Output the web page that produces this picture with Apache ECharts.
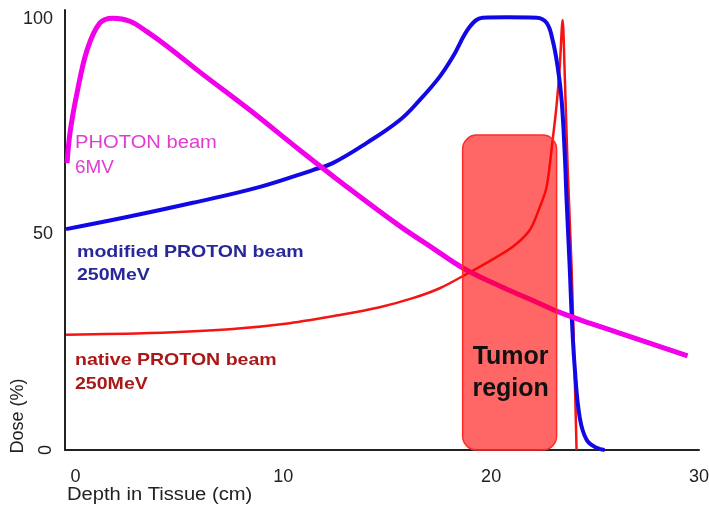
<!DOCTYPE html>
<html>
<head>
<meta charset="utf-8">
<script src="https://cdn.jsdelivr.net/npm/echarts@6/dist/echarts.min.js"></script>
<style>
html,body{margin:0;padding:0;background:#fff;}
#chart{width:709px;height:508px;}
</style>
</head>
<body>
<div id="chart"></div>
<script>
// ---- data (depth in cm, dose in %) ----
const photonDepth = [-0.40,-0.26,0.08,0.56,1.18,1.81,2.62,3.44,4.55,5.99,8.39,10.80,13.20,15.61,17.19,18.64,20.41,21.85,23.15,24.74,26.18,27.62,29.45];
const photonDose  = [66.5,73.5,82.8,92.7,99.0,100.1,99.4,97.0,93.1,87.6,78.8,69.5,60.5,51.9,46.8,42.2,38.0,35.0,32.2,29.4,27.1,24.8,21.8];

const modProtonDepth = [-0.45,2.48,5.65,8.88,11.42,12.38,14.02,15.61,16.56,17.52,18.15,18.97,19.59,20.75,22.19,22.67,22.96,23.20,23.39,23.54,23.63,23.78,23.88,24.02,24.26,24.60,25.08,25.46];
const modProtonDose  = [51.2,54.0,57.3,61.0,64.9,66.5,71.2,76.5,81.1,86.5,91.1,98.1,100.2,100.3,100.2,99.0,95.0,88.8,81.1,68.8,58.0,42.4,30.8,19.2,7.6,2.3,0.5,0];

const natProtonDepth = [-0.45,3.59,7.43,10.31,12.72,14.64,16.23,17.53,18.82,19.93,21.04,21.86,22.34,22.67,22.96,23.15,23.30,23.44,23.53,23.68,23.87,24.01,24.11];
const natProtonDose  = [26.7,27.1,28.0,29.4,31.3,33.1,35.2,37.5,40.8,43.8,47.1,51.0,56.3,61.0,71.9,80.0,88.8,99.7,88.8,65.6,42.4,19.2,0];

// tumor region: [depth start, depth end, dose top]
const tumorRegion = [18.63, 23.15, 73.0];

const depthTicks = [0, 10, 20, 30];
const doseTicks = [50, 100];
const doseZeroTick = [0];

const pair = (xs, ys) => xs.map((x, i) => [x, ys[i]]);

const chart = echarts.init(document.getElementById('chart'), null, {renderer: 'canvas'});
const FONT = '"Liberation Sans", Arial, sans-serif';

const option = {
  animation: false,
  backgroundColor: '#ffffff',
  grid: {left: 65, right: 10, top: 10, bottom: 58, containLabel: false, outerBoundsMode: 'none'},
  xAxis: {
    type: 'value', min: -0.5, max: 30,
    axisLine: {show: true, onZero: false, lineStyle: {color: '#222', width: 2}},
    axisTick: {show: false},
    splitLine: {show: false},
    axisLabel: {customValues: depthTicks, margin: 18, fontSize: 18, fontFamily: FONT, color: '#222'}
  },
  yAxis: [{
    type: 'value', min: 0, max: 102,
    axisLine: {show: true, onZero: false, lineStyle: {color: '#222', width: 2}},
    axisTick: {show: false},
    splitLine: {show: false},
    axisLabel: {customValues: doseTicks, margin: 12, fontSize: 18, fontFamily: FONT, color: '#222'}
  }, {
    type: 'value', min: 0, max: 102, position: 'left',
    axisLine: {show: false, onZero: false}, axisTick: {show: false}, splitLine: {show: false},
    axisLabel: {customValues: doseZeroTick, rotate: 90, margin: 10, fontSize: 18, fontFamily: FONT, color: '#222'}
  }],
  series: [
    {
      type: 'line', name: 'native PROTON beam', data: pair(natProtonDepth, natProtonDose),
      showSymbol: false, smooth: 0.3,
      lineStyle: {color: '#f41414', width: 2.5}, z: 3
    },
    {
      type: 'line', name: 'modified PROTON beam', data: pair(modProtonDepth, modProtonDose),
      showSymbol: false, smooth: 0.4,
      lineStyle: {color: '#1208e6', width: 4}, z: 4
    },
    {
      type: 'line', name: 'PHOTON beam', data: pair(photonDepth, photonDose),
      showSymbol: false, smooth: 0.35,
      lineStyle: {color: '#f200ea', width: 5}, z: 5
    },
    {
      type: 'custom', name: 'Tumor region', z: 10, clip: false,
      data: [tumorRegion],
      encode: {x: [0, 1], y: 2},
      renderItem: function (params, api) {
        const p0 = api.coord([api.value(0), 0]);
        const p1 = api.coord([api.value(1), api.value(2)]);
        const w = p1[0] - p0[0], h = p0[1] - p1[1];
        return {
          type: 'group',
          children: [{
            type: 'rect',
            shape: {x: p0[0], y: p1[1], width: w, height: h, r: 14},
            style: {fill: 'rgba(255,0,0,0.6)', stroke: '#ff2a2a', lineWidth: 1.5}
          }, {
            type: 'text',
            style: {
              text: 'Tumor\nregion', x: p0[0] + w / 2 + 1, y: p0[1] - 77,
              align: 'center', verticalAlign: 'middle',
              font: 'bold 25px ' + FONT, lineHeight: 32, fill: '#111'
            }
          }]
        };
      }
    }
  ],
  graphic: [
    {type: 'text', x: 75, y: 143, scaleX: 1.12, style: {text: 'PHOTON beam', font: '18px ' + FONT, fill: '#e03cd2', verticalAlign: 'middle'}},
    {type: 'text', x: 75, y: 168, scaleX: 1.05, style: {text: '6MV', font: '18px ' + FONT, fill: '#e03cd2', verticalAlign: 'middle'}},
    {type: 'text', x: 77, y: 252, scaleX: 1.15, style: {text: 'modified PROTON beam', font: 'bold 17px ' + FONT, fill: '#28289a', verticalAlign: 'middle'}},
    {type: 'text', x: 77, y: 275, scaleX: 1.15, style: {text: '250MeV', font: 'bold 17px ' + FONT, fill: '#28289a', verticalAlign: 'middle'}},
    {type: 'text', x: 75, y: 360, scaleX: 1.15, style: {text: 'native PROTON beam', font: 'bold 17px ' + FONT, fill: '#aa1818', verticalAlign: 'middle'}},
    {type: 'text', x: 75, y: 384, scaleX: 1.15, style: {text: '250MeV', font: 'bold 17px ' + FONT, fill: '#aa1818', verticalAlign: 'middle'}},
    {type: 'text', x: 67, y: 495, scaleX: 1.12, style: {text: 'Depth in Tissue (cm)', font: '18px ' + FONT, fill: '#222', verticalAlign: 'middle'}},
    {type: 'text', x: 18, y: 416, rotation: Math.PI / 2, style: {text: 'Dose (%)', font: '18px ' + FONT, fill: '#222', align: 'center', verticalAlign: 'middle'}}
  ]
};
chart.setOption(option);
</script>
</body>
</html>
